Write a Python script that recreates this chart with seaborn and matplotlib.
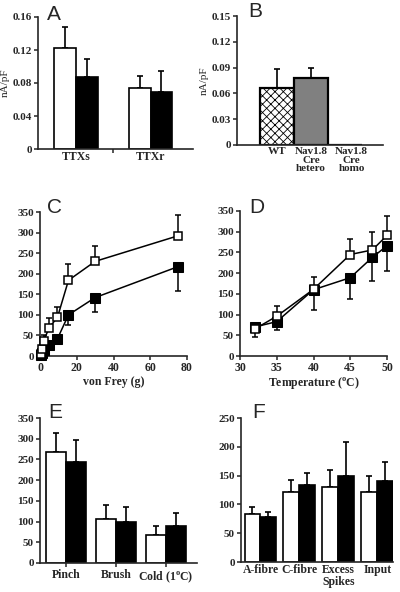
import numpy as np
import pandas as pd
import matplotlib
matplotlib.use("Agg")
import matplotlib.pyplot as plt
import seaborn as sns

sns.set_style("ticks")
plt.rcParams["font.family"] = ["Liberation Serif", "DejaVu Serif"]
plt.rcParams["font.weight"] = "bold"
plt.rcParams["axes.labelweight"] = "bold"
plt.rcParams["mathtext.fontset"] = "custom"
plt.rcParams["mathtext.rm"] = "Liberation Serif:bold"
plt.rcParams["mathtext.bf"] = "Liberation Serif:bold"
plt.rcParams["hatch.linewidth"] = 0.6

# Panel A - current density
a_cats = ["TTXs", "TTXr"]
a_white = [0.122, 0.074]
a_white_err = [0.148, 0.088]
a_black = [0.087, 0.069]
a_black_err = [0.109, 0.095]

# Panel B
b_cats = ["WT", "Nav1.8\nCre\nhetero", "Nav1.8\nCre\nhomo"]
b_vals = [0.066, 0.078, 0.0]
b_err = [0.088, 0.089, 0.0]

# Panel C - von Frey
c_x = [0.4, 1, 2, 5, 9.5, 15.5, 30, 75]
c_white = [6, 16, 37, 69, 94, 184, 230, 292]
c_white_err = [6, 16, 51, 92, 118, 224, 268, 342]
c_x_black = [0.4, 1, 2, 5, 9.5, 15.5, 30, 75]
c_black = [3, 8, 14, 27, 42, 100, 142, 217]
c_black_err = [3, 8, 14, 27, 28, 75, 106, 157]

# Panel D - temperature
d_x = [32, 35, 40, 45, 48, 50]
d_white = [65, 96, 161, 245, 256, 291]
d_white_err = [65, 121, 190, 282, 299, 339]
d_black = [70, 83, 160, 189, 238, 266]
d_black_err = [47, 62, 110, 137, 182, 204]

# Panel E
e_cats = ["Pinch", "Brush", "Cold (1$^{\\rm o}$C)"]
e_white = [268, 107, 68]
e_white_err = [315, 139, 89]
e_black = [244, 98, 90]
e_black_err = [296, 135, 121]

# Panel F
f_cats = ["A-fibre", "C-fibre", "Excess\nSpikes", "Input"]
f_white = [84, 122, 131, 121]
f_white_err = [95, 143, 160, 150]
f_black = [78, 133, 149, 141]
f_black_err = [86, 154, 209, 173]

W, H = 400, 592
fig = plt.figure(figsize=(W / 100, H / 100), dpi=100)


def px_axes(left, top, right, bottom):
    return fig.add_axes([left / W, 1 - bottom / H, (right - left) / W, (bottom - top) / H])


def style_axes(ax):
    sns.despine(ax=ax)
    for s in ["left", "bottom"]:
        ax.spines[s].set_linewidth(1.2)
    ax.tick_params(axis="both", length=3, width=1.1, pad=1.5)
    ax.tick_params(axis="y", labelsize=8)
    ax.tick_params(axis="x", labelsize=8.5)
    ax.set_xlabel(ax.get_xlabel(), fontsize=8.5, labelpad=1)


def grouped_bars(ax, cats, white, white_err, black, black_err, width, lw=1.2):
    df = pd.DataFrame({
        "cat": cats * 2,
        "grp": ["w"] * len(cats) + ["b"] * len(cats),
        "val": white + black,
    })
    sns.barplot(data=df, x="cat", y="val", hue="grp", palette=["white", "black"],
                edgecolor="black", linewidth=lw, width=width, errorbar=None,
                saturation=1, legend=False, ax=ax, zorder=2)
    for cont, vals, tops in zip(ax.containers, [white, black], [white_err, black_err]):
        xs = [p.get_x() + p.get_width() / 2 for p in cont.patches]
        up = np.array(tops) - np.array(vals)
        ax.errorbar(xs, vals, yerr=[np.zeros(len(vals)), up], fmt="none",
                    ecolor="black", elinewidth=1.2, capsize=2, capthick=1.2, zorder=1)
    ax.set_xlabel("")
    ax.set_ylabel("")


# A
axA = px_axes(38, 17, 193, 149)
grouped_bars(axA, a_cats, a_white, a_white_err, a_black, a_black_err, 0.58)
axA.set_xlim(-0.51, 1.57)
axA.set_ylim(0, 0.16)
axA.set_yticks([0, 0.04, 0.08, 0.12, 0.16])
axA.set_yticklabels(["0", "0.04", "0.08", "0.12", "0.16"])
axA.set_xticks([0.5], minor=True)
style_axes(axA)
axA.tick_params(axis="x", which="major", length=0)
axA.tick_params(axis="x", which="minor", length=3, width=1.1)
axA.set_ylabel("nA/pF", fontsize=8, fontweight="normal", labelpad=2)

# B
axB = px_axes(237, 16, 383, 145)
dfB = pd.DataFrame({"cat": b_cats, "val": b_vals})
sns.barplot(data=dfB, x="cat", y="val", hue="cat", palette=["white", "#808080", "white"],
            edgecolor="black", linewidth=1.6, width=1.0, errorbar=None, saturation=1,
            legend=False, ax=axB, zorder=2)
axB.patches[0].set_hatch("xxxx")
xsB = [p.get_x() + p.get_width() / 2 for p in axB.patches]
axB.errorbar(xsB[:2], b_vals[:2], yerr=[[0, 0], np.array(b_err[:2]) - np.array(b_vals[:2])],
             fmt="none", ecolor="black", elinewidth=1.2, capsize=2, capthick=1.2, zorder=1)
axB.set_xlim(-1.18, 3.12)
axB.set_ylim(0, 0.15)
axB.set_yticks([0, 0.03, 0.06, 0.09, 0.12, 0.15])
axB.set_yticklabels(["0", "0.03", "0.06", "0.09", "0.12", "0.15"])
axB.set_xticks([0, 1, 2.2], b_cats)
axB.set_xlabel("")
style_axes(axB)
axB.tick_params(axis="x", length=0, labelsize=8)
for lab in axB.get_xticklabels():
    lab.set_linespacing(0.95)
axB.set_ylabel("nA/pF", fontsize=8, fontweight="normal", labelpad=2)


def line_panel(ax, x, wy, wtop, xb, by, blow):
    wy, wtop, by, blow = map(np.array, (wy, wtop, by, blow))
    ax.errorbar(x, wy, yerr=[np.zeros(len(wy)), wtop - wy], fmt="none", ecolor="black",
                elinewidth=1.1, capsize=2, capthick=1.1, zorder=1, clip_on=False)
    ax.errorbar(xb, by, yerr=[by - blow, np.zeros(len(by))], fmt="none", ecolor="black",
                elinewidth=1.1, capsize=2, capthick=1.1, zorder=1, clip_on=False)
    sns.lineplot(x=xb, y=by, ax=ax, color="black", marker="s", markersize=6.5,
                 markerfacecolor="black", markeredgecolor="black", linewidth=1.1,
                 zorder=3, clip_on=False)
    sns.lineplot(x=x, y=wy, ax=ax, color="black", marker="s", markersize=5.5,
                 markerfacecolor="white", markeredgecolor="black", markeredgewidth=1.1,
                 linewidth=1.1, zorder=4, clip_on=False)


# C
axC = px_axes(40, 212, 187, 356)
line_panel(axC, c_x, c_white, c_white_err, c_x_black, c_black, c_black_err)
axC.set_xlim(0, 80)
axC.set_ylim(0, 350)
axC.set_xticks([0, 20, 40, 60, 80])
axC.set_yticks(range(0, 351, 50))
axC.set_xlabel("von Frey (g)")
style_axes(axC)

# D
axD = px_axes(240, 211, 387, 356)
line_panel(axD, d_x, d_white, d_white_err, d_x, d_black, d_black_err)
axD.set_xlim(30, 50)
axD.set_ylim(0, 350)
axD.set_xticks([30, 35, 40, 45, 50])
axD.set_yticks(range(0, 351, 50))
axD.set_xlabel("Temperature ($^{\\rm o}$C)")
style_axes(axD)

# E
axE = px_axes(40, 418, 197, 563)
grouped_bars(axE, e_cats, e_white, e_white_err, e_black, e_black_err, 0.8)
axE.set_xlim(-0.52, 2.62)
axE.set_ylim(0, 350)
axE.set_yticks(range(0, 351, 50))
style_axes(axE)

# F
axF = px_axes(241, 418, 393, 562)
grouped_bars(axF, f_cats, f_white, f_white_err, f_black, f_black_err, 0.82)
axF.set_xlim(-0.5, 3.4)
axF.set_ylim(0, 250)
axF.set_yticks(range(0, 251, 50))
style_axes(axF)
axF.tick_params(axis="x", length=0)
for lab in axF.get_xticklabels():
    lab.set_linespacing(0.95)

# panel letters
for letter, x, y in [("A", 47, 20), ("B", 248, 17), ("C", 47, 213),
                     ("D", 249, 213), ("E", 48, 418), ("F", 252, 418)]:
    fig.text(x / W, 1 - y / H, letter, fontsize=15, fontweight="normal",
             family=["Liberation Sans", "DejaVu Sans"], va="baseline", ha="left")

fig.savefig("out.png", dpi=100)
